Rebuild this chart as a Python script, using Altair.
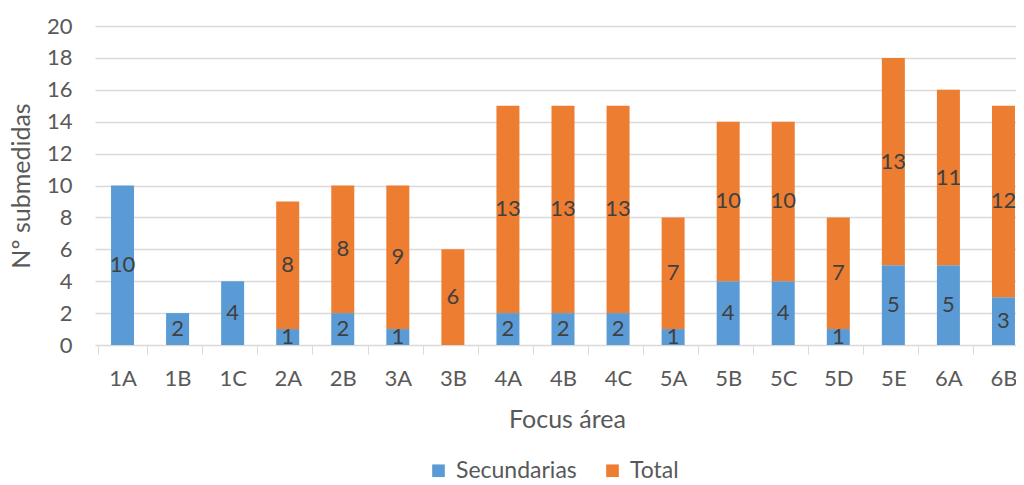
import altair as alt
import pandas as pd

categories = ["1A", "1B", "1C", "2A", "2B", "3A", "3B", "4A", "4B", "4C",
              "5A", "5B", "5C", "5D", "5E", "6A", "6B"]
secundarias = [10, 2, 4, 1, 2, 1, 0, 2, 2, 2, 1, 4, 4, 1, 5, 5, 3]
total = [0, 0, 0, 8, 8, 9, 6, 13, 13, 13, 7, 10, 10, 7, 13, 11, 12]
series = ["Secundarias", "Total"]
colors = ["#5B9BD5", "#ED7D31"]
y_ticks = list(range(0, 21, 2))

rows = []
for c, s, t in zip(categories, secundarias, total):
    rows.append({"cat": c, "serie": "Secundarias", "val": s, "ord": 0})
    rows.append({"cat": c, "serie": "Total", "val": t, "ord": 1})
df = pd.DataFrame(rows)

FONT = "Lato"
GRAY = "#595959"
XRANGE = 936  # category band extent (reference plot runs past the right edge)

base = alt.Chart(df).transform_stack(
    stack="val", groupby=["cat"], as_=["y0", "y1"],
    sort=[alt.SortField("ord", order="ascending")]
).transform_calculate(mid="(datum.y0 + datum.y1) / 2")

yaxis = alt.Axis(values=y_ticks, tickCount=11, labelOverlap=False, tickSize=0, domain=False,
                 gridColor="#d9d9d9", gridWidth=1.5,
                 labelPadding=23, titlePadding=12,
                 labelFontSize=22, titleFontSize=25,
                 labelColor=GRAY, titleColor=GRAY,
                 labelFont=FONT, titleFont=FONT, titleFontWeight="normal")

xaxis = alt.Axis(labelAngle=0, tickBand="extent", tickSize=9,
                 tickColor="#d9d9d9", domainColor="#d9d9d9",
                 labelPadding=14, titlePadding=18, titleX=472,
                 labelFontSize=22, titleFontSize=25,
                 labelColor=GRAY, titleColor=GRAY,
                 labelFont=FONT, titleFont=FONT, titleFontWeight="normal")

xscale = alt.Scale(range=[0, XRANGE])

bars = base.mark_bar(size=23).encode(
    x=alt.X("cat:N", sort=categories, title="Focus área", axis=xaxis, scale=xscale),
    y=alt.Y("y0:Q", scale=alt.Scale(domain=[0, 20]), title="Nº submedidas", axis=yaxis),
    y2="y1:Q",
    color=alt.Color("serie:N", scale=alt.Scale(domain=series, range=colors),
                    legend=alt.Legend(title=None, orient="none", direction="horizontal",
                                      legendX=332, legendY=433,
                                      symbolType="square", symbolSize=160,
                                      symbolStrokeWidth=0,
                                      labelFontSize=23, labelColor=GRAY, labelFont=FONT,
                                      columnPadding=24, labelOffset=6)),
)

labels = base.transform_filter("datum.val > 0").mark_text(
    fontSize=22, color="#404040", font=FONT
).encode(
    x=alt.X("cat:N", sort=categories, title="Focus área", axis=xaxis, scale=xscale),
    y=alt.Y("mid:Q", scale=alt.Scale(domain=[0, 20]), title="Nº submedidas", axis=yaxis),
    text=alt.Text("val:Q"),
)

chart = alt.layer(bars, labels).properties(
    width=921, height=319,
    autosize=alt.AutoSizeParams(type="none"),
    padding={"left": 87, "top": 18, "right": 0, "bottom": 140}
).configure_view(stroke=None)

chart.save("out.html", embed_options={"renderer": "svg", "actions": False})
